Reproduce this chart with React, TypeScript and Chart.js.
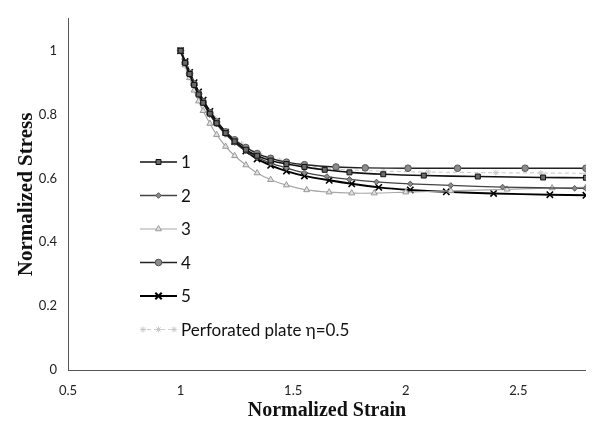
import React, { useEffect, useRef } from "react";
import { Chart, registerables } from "chart.js";
import { drawPoint } from "chart.js/helpers";

Chart.register(...registerables);

// ---------- data ----------
const xTicks = [0.5, 1, 1.5, 2, 2.5];
const yTicks = [0, 0.2, 0.4, 0.6, 0.8, 1];

const labels = ["1", "2", "3", "4", "5", "Perforated plate \u03b7=0.5"];

const x1 = [1.0, 1.02, 1.04, 1.06, 1.08, 1.1, 1.13, 1.16, 1.2, 1.24, 1.29, 1.34, 1.4, 1.47, 1.55, 1.64, 1.75, 1.9, 2.08, 2.32, 2.61, 2.8];
const y1 = [1.0, 0.962, 0.927, 0.893, 0.863, 0.837, 0.803, 0.773, 0.742, 0.716, 0.69, 0.671, 0.656, 0.645, 0.636, 0.627, 0.619, 0.613, 0.609, 0.606, 0.603, 0.602];

const x2 = [1.0, 1.02, 1.04, 1.06, 1.08, 1.1, 1.13, 1.16, 1.2, 1.24, 1.29, 1.34, 1.4, 1.47, 1.55, 1.65, 1.75, 1.87, 2.02, 2.2, 2.43, 2.75, 2.8];
const y2 = [1.0, 0.961, 0.925, 0.891, 0.861, 0.835, 0.8, 0.77, 0.738, 0.712, 0.686, 0.666, 0.648, 0.633, 0.618, 0.606, 0.597, 0.589, 0.583, 0.578, 0.573, 0.569, 0.569];

const x3 = [1.0, 1.02, 1.04, 1.06, 1.08, 1.1, 1.13, 1.16, 1.2, 1.24, 1.29, 1.34, 1.4, 1.47, 1.56, 1.66, 1.76, 1.86, 2.0, 2.2, 2.45, 2.65, 2.8];
const y3 = [1.0, 0.955, 0.915, 0.876, 0.842, 0.812, 0.772, 0.737, 0.7, 0.671, 0.642, 0.617, 0.596, 0.579, 0.564, 0.557, 0.554, 0.554, 0.557, 0.561, 0.566, 0.57, 0.572];

const x4 = [1.0, 1.02, 1.04, 1.06, 1.08, 1.1, 1.13, 1.16, 1.2, 1.24, 1.29, 1.34, 1.4, 1.47, 1.55, 1.69, 1.82, 2.01, 2.23, 2.53, 2.8];
const y4 = [1.0, 0.963, 0.929, 0.896, 0.866, 0.84, 0.806, 0.777, 0.746, 0.721, 0.697, 0.678, 0.663, 0.651, 0.643, 0.636, 0.633, 0.632, 0.632, 0.632, 0.632];

const x5 = [1.0, 1.02, 1.04, 1.06, 1.08, 1.1, 1.13, 1.16, 1.2, 1.24, 1.29, 1.34, 1.4, 1.47, 1.55, 1.66, 1.76, 1.88, 2.02, 2.18, 2.39, 2.64, 2.8];
const y5 = [1.0, 0.966, 0.932, 0.9, 0.871, 0.845, 0.81, 0.779, 0.745, 0.716, 0.686, 0.661, 0.641, 0.623, 0.608, 0.594, 0.583, 0.572, 0.564, 0.558, 0.553, 0.549, 0.547];

const xP = [1.0, 1.03, 1.06, 1.1, 1.15, 1.2, 1.27, 1.35, 1.44, 1.55, 1.7, 1.9, 2.1, 2.4, 2.6, 2.8];
const yP = [1.0, 0.945, 0.898, 0.845, 0.79, 0.748, 0.708, 0.678, 0.656, 0.641, 0.629, 0.623, 0.62, 0.618, 0.617, 0.616];

const seriesX = [x1, x2, x3, x4, x5, xP];
const seriesY = [y1, y2, y3, y4, y5, yP];

// ---------- styles ----------
const styles = [
  { line: "#111", width: 1.6, point: "rect", radius: 3.5, fill: "#6a6a6a", stroke: "#111", dash: [] as number[] },
  { line: "#444", width: 1.3, point: "rectRot", radius: 2.8, fill: "#8a8a8a", stroke: "#555", dash: [] as number[] },
  { line: "#a8a8a8", width: 1.2, point: "triangle", radius: 3.5, fill: "#e0e0e0", stroke: "#999", dash: [] as number[] },
  { line: "#222", width: 1.4, point: "circle", radius: 3.3, fill: "#8c8c8c", stroke: "#555", dash: [] as number[] },
  { line: "#000", width: 2, point: "crossRot", radius: 4.5, fill: "#000", stroke: "#000", dash: [] as number[] },
  { line: "#cfcfcf", width: 1.2, point: "star", radius: 3, fill: "#ddd", stroke: "#c8c8c8", dash: [4, 3] },
];

const legendPlugin = {
  id: "inlineLegend",
  afterDraw(chart: any) {
    const ctx = chart.ctx;
    const x0 = 140;
    const x1L = 177;
    const yStart = 162;
    const step = 33.5;
    ctx.save();
    labels.forEach((lab, i) => {
      const s = styles[i];
      const y = yStart + i * step;
      ctx.beginPath();
      ctx.setLineDash(s.dash);
      ctx.strokeStyle = s.line;
      ctx.lineWidth = s.width;
      ctx.moveTo(x0, y);
      ctx.lineTo(x1L, y);
      ctx.stroke();
      ctx.setLineDash([]);
      ctx.fillStyle = s.fill;
      ctx.strokeStyle = s.stroke;
      ctx.lineWidth = 1;
      if (i === 5) {
        [x0 + 3, (x0 + x1L) / 2, x1L - 3].forEach((px) =>
          drawPoint(ctx, { pointStyle: s.point, radius: s.radius, rotation: 0, borderWidth: 1 }, px, y)
        );
      } else {
        ctx.lineWidth = i === 4 ? 2 : 1;
        drawPoint(ctx, { pointStyle: s.point, radius: s.radius, rotation: 0, borderWidth: ctx.lineWidth }, (x0 + x1L) / 2, y);
      }
      ctx.fillStyle = "#111";
      ctx.font = "17px Lato";
      ctx.textAlign = "left";
      ctx.textBaseline = "middle";
      ctx.fillText(lab, x1L + 4, y + 1);
    });
    ctx.restore();
  },
};

export default function App() {
  const ref = useRef<HTMLCanvasElement | null>(null);
  useEffect(() => {
    if (!ref.current) return;
    const datasets = labels.map((lab, i) => {
      const s = styles[i];
      return {
        label: lab,
        data: seriesX[i].map((x, j) => ({ x, y: seriesY[i][j] })),
        borderColor: s.line,
        borderWidth: s.width,
        borderDash: s.dash,
        pointStyle: s.point,
        pointRadius: s.radius,
        pointBackgroundColor: s.fill,
        pointBorderColor: s.stroke,
        pointBorderWidth: i === 4 ? 1.6 : 1,
        showLine: true,
        fill: false,
        tension: 0.3,
      };
    });
    const chart = new Chart(ref.current, {
      type: "scatter",
      data: { datasets } as any,
      plugins: [legendPlugin],
      options: {
        animation: false,
        responsive: false,
        maintainAspectRatio: false,
        layout: { padding: { top: 18, right: 0, left: 0, bottom: 0 } },
        plugins: { legend: { display: false }, tooltip: { enabled: false } },
        scales: {
          x: {
            type: "linear",
            min: 0.5,
            max: 2.8,
            afterBuildTicks: (scale: any) => {
              scale.ticks = xTicks.map((v) => ({ value: v }));
            },
            afterFit: (scale: any) => {
              scale.height = 56;
            },
            grid: { display: true, drawOnChartArea: false, drawTicks: false },
            border: { display: true, color: "#555", width: 1, dash: [2, 1] },
            ticks: {
              padding: 13,
              color: "#222",
              font: { family: "Lato", size: 13 },
              callback: (v: any) => String(v),
            },
            title: {
              display: true,
              text: "Normalized Strain",
              color: "#111",
              font: { family: "Liberation Serif", size: 20, weight: "bold" },
              padding: { top: 0, bottom: 3 },
            },
          },
          y: {
            type: "linear",
            min: 0,
            max: 1.1,
            afterBuildTicks: (scale: any) => {
              scale.ticks = yTicks.map((v) => ({ value: v }));
            },
            afterFit: (scale: any) => {
              scale.width = 68;
            },
            grid: { display: true, drawOnChartArea: false, drawTicks: false },
            border: { display: true, color: "#555", width: 1, dash: [2, 1] },
            ticks: {
              padding: 11,
              color: "#222",
              font: { family: "Lato", size: 13 },
              callback: (v: any) => String(v),
            },
            title: {
              display: true,
              text: "Normalized Stress",
              color: "#111",
              font: { family: "Liberation Serif", size: 21, weight: "bold" },
              padding: { top: 14, bottom: 0 },
            },
          },
        },
      } as any,
    });
    return () => chart.destroy();
  }, []);
  return (
    <div style={{ position: "fixed", left: 0, top: 0, width: 592, height: 426, background: "#fff" }}>
      <canvas ref={ref} width={592} height={426} style={{ width: 592, height: 426, display: "block" }} />
    </div>
  );
}
